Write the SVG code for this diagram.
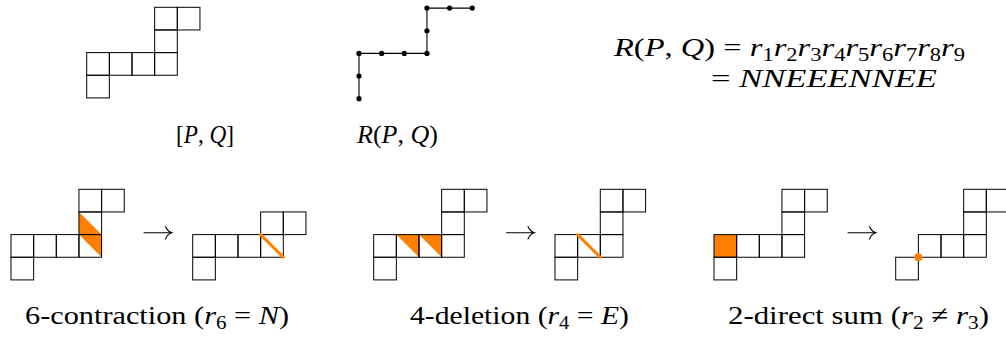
<svg xmlns="http://www.w3.org/2000/svg" width="1006" height="343" viewBox="0 0 1006 343">
<style>
.c{fill:none;stroke:#000;stroke-width:1}
.t{font-family:'Liberation Serif','Noto Serif','DejaVu Serif','Nimbus Roman','FreeSerif',Times,serif;font-size:26px;fill:#000}
.i{font-style:italic}
.s{font-size:18px}
.o{fill:#ff8000}
.ol{stroke:#ff8000;stroke-width:3;stroke-linecap:round;fill:none}
.pth{stroke:#000;stroke-width:1.1;fill:none}
.dot{fill:#000}
.arr{stroke:#000;stroke-width:1.1;fill:none;stroke-linecap:round}
</style>
<defs>
<g id="p8">
<rect class="c" x="67.95" y="0" width="22.65" height="22.65"/>
<rect class="c" x="90.6" y="0" width="22.65" height="22.65"/>
<rect class="c" x="67.95" y="22.65" width="22.65" height="22.65"/>
<rect class="c" x="0" y="45.3" width="22.65" height="22.65"/>
<rect class="c" x="22.65" y="45.3" width="22.65" height="22.65"/>
<rect class="c" x="45.3" y="45.3" width="22.65" height="22.65"/>
<rect class="c" x="67.95" y="45.3" width="22.65" height="22.65"/>
<rect class="c" x="0" y="67.95" width="22.65" height="22.65"/>
</g>
</defs>

<g id="node-polyomino">
<use href="#p8" x="86.7" y="7.3"/>
</g>
<g id="node-path">
<polyline class="pth" points="359,98.7 359,76.05 359,53.4 381.65,53.4 404.3,53.4 426.95,53.4 426.95,30.75 426.95,8.1 449.6,8.1 472.25,8.1"/>
<circle class="dot" cx="359" cy="98.7" r="2.6"/>
<circle class="dot" cx="359" cy="76.05" r="2.6"/>
<circle class="dot" cx="359" cy="53.4" r="2.6"/>
<circle class="dot" cx="381.65" cy="53.4" r="2.6"/>
<circle class="dot" cx="404.3" cy="53.4" r="2.6"/>
<circle class="dot" cx="426.95" cy="53.4" r="2.6"/>
<circle class="dot" cx="426.95" cy="30.75" r="2.6"/>
<circle class="dot" cx="426.95" cy="8.1" r="2.6"/>
<circle class="dot" cx="449.6" cy="8.1" r="2.6"/>
<circle class="dot" cx="472.25" cy="8.1" r="2.6"/>
</g>
<g id="label-PQ">
<text class="t" font-family="Liberation Serif, serif" x="176" y="143" textLength="58" lengthAdjust="spacingAndGlyphs">[<tspan class="i">P</tspan>, <tspan class="i">Q</tspan>]</text>
</g>
<g id="label-RPQ">
<text class="t" font-family="Liberation Serif, serif" x="357" y="143" textLength="81" lengthAdjust="spacingAndGlyphs"><tspan class="i">R</tspan>(<tspan class="i">P</tspan>, <tspan class="i">Q</tspan>)</text>
</g>
<g id="formula">
<text class="t" font-family="Liberation Serif, serif" x="614" y="56" textLength="351" lengthAdjust="spacingAndGlyphs"><tspan class="i">R</tspan>(<tspan class="i">P</tspan>, <tspan class="i">Q</tspan>) = <tspan class="i">r</tspan><tspan class="s" dy="5">1</tspan><tspan class="i" dy="-5">r</tspan><tspan class="s" dy="5">2</tspan><tspan class="i" dy="-5">r</tspan><tspan class="s" dy="5">3</tspan><tspan class="i" dy="-5">r</tspan><tspan class="s" dy="5">4</tspan><tspan class="i" dy="-5">r</tspan><tspan class="s" dy="5">5</tspan><tspan class="i" dy="-5">r</tspan><tspan class="s" dy="5">6</tspan><tspan class="i" dy="-5">r</tspan><tspan class="s" dy="5">7</tspan><tspan class="i" dy="-5">r</tspan><tspan class="s" dy="5">8</tspan><tspan class="i" dy="-5">r</tspan><tspan class="s" dy="5">9</tspan></text>
<text class="t" font-family="Liberation Serif, serif" x="711" y="87" textLength="226" lengthAdjust="spacingAndGlyphs">= <tspan class="i">NNEEENNEE</tspan></text>
</g>

<g id="node-contraction-before">
<path class="o" d="M78.95,211.95 L78.95,234.6 L101.6,257.25 L101.6,234.6 Z"/>
<use href="#p8" x="11" y="189.3"/>
</g>
<g id="node-contraction-after">
<rect class="c" x="260.65" y="211.95" width="22.65" height="22.65"/>
<rect class="c" x="283.3" y="211.95" width="22.65" height="22.65"/>
<rect class="c" x="192.7" y="234.6" width="22.65" height="22.65"/>
<rect class="c" x="215.35" y="234.6" width="22.65" height="22.65"/>
<rect class="c" x="238" y="234.6" width="22.65" height="22.65"/>
<rect class="c" x="260.65" y="234.6" width="22.65" height="22.65"/>
<rect class="c" x="192.7" y="257.25" width="22.65" height="22.65"/>
<line class="ol" x1="260.65" y1="234.6" x2="283.3" y2="257.25"/>
</g>

<g id="node-deletion-before">
<path class="o" d="M396.35,234.6 L419,234.6 L419,257.25 Z M419,234.6 L441.65,234.6 L441.65,257.25 Z"/>
<use href="#p8" x="373.7" y="189.3"/>
</g>
<g id="node-deletion-after">
<rect class="c" x="600.3" y="189.3" width="22.65" height="22.65"/>
<rect class="c" x="622.95" y="189.3" width="22.65" height="22.65"/>
<rect class="c" x="600.3" y="211.95" width="22.65" height="22.65"/>
<rect class="c" x="555" y="234.6" width="22.65" height="22.65"/>
<rect class="c" x="577.65" y="234.6" width="22.65" height="22.65"/>
<rect class="c" x="600.3" y="234.6" width="22.65" height="22.65"/>
<rect class="c" x="555" y="257.25" width="22.65" height="22.65"/>
<line class="ol" x1="577.65" y1="234.6" x2="600.3" y2="257.25"/>
</g>

<g id="node-sum-before">
<rect class="o" x="714" y="234.6" width="22.65" height="22.65"/>
<use href="#p8" x="714" y="189.3"/>
</g>
<g id="node-sum-after">
<rect class="c" x="963.65" y="189.3" width="22.65" height="22.65"/>
<rect class="c" x="986.3" y="189.3" width="22.65" height="22.65"/>
<rect class="c" x="963.65" y="211.95" width="22.65" height="22.65"/>
<rect class="c" x="918.35" y="234.6" width="22.65" height="22.65"/>
<rect class="c" x="941" y="234.6" width="22.65" height="22.65"/>
<rect class="c" x="963.65" y="234.6" width="22.65" height="22.65"/>
<rect class="c" x="895.7" y="257.25" width="22.65" height="22.65"/>
<circle class="o" cx="918.35" cy="257.25" r="4"/>
</g>

<g id="connectors">
<path class="arr" d="M144,232.7 H171.5 M165.5,226.5 Q167.5,231.5 171.8,232.7 Q167.5,234 165.5,239"/>
<path class="arr" d="M506.5,232.7 H534 M528,226.5 Q530,231.5 534.3,232.7 Q530,234 528,239"/>
<path class="arr" d="M848,232.7 H875.5 M869.5,226.5 Q871.5,231.5 875.8,232.7 Q871.5,234 869.5,239"/>
</g>

<g id="labels">
<text class="t" font-family="Liberation Serif, serif" x="25" y="324" textLength="264" lengthAdjust="spacingAndGlyphs">6-contraction (<tspan class="i">r</tspan><tspan class="s" dy="5">6</tspan><tspan dy="-5"> = </tspan><tspan class="i">N</tspan>)</text>
<text class="t" font-family="Liberation Serif, serif" x="410" y="324" textLength="219" lengthAdjust="spacingAndGlyphs">4-deletion (<tspan class="i">r</tspan><tspan class="s" dy="5">4</tspan><tspan dy="-5"> = </tspan><tspan class="i">E</tspan>)</text>
<text class="t" font-family="Liberation Serif, serif" x="728" y="324" textLength="261" lengthAdjust="spacingAndGlyphs">2-direct sum (<tspan class="i">r</tspan><tspan class="s" dy="5">2</tspan><tspan dy="-5"> ≠ </tspan><tspan class="i">r</tspan><tspan class="s" dy="5">3</tspan><tspan dy="-5">)</tspan></text>
</g>
</svg>
